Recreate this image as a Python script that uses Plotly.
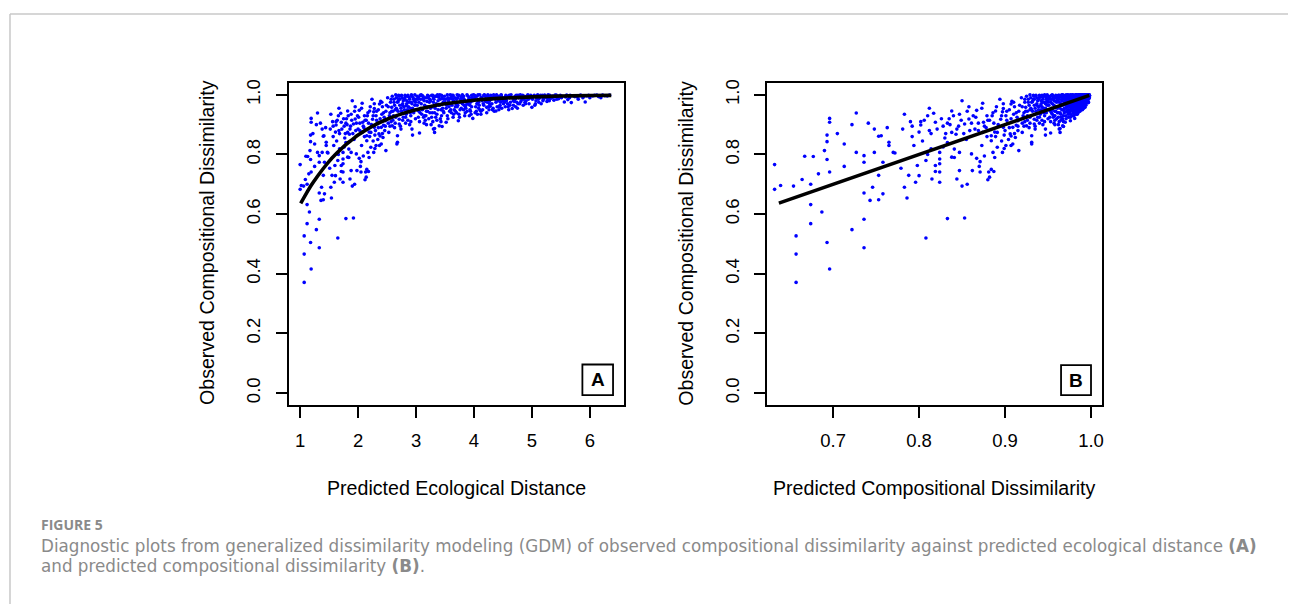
import plotly.graph_objects as go

# ---------------- data ----------------
# Panel A x: predicted ecological distance
pred_eco = [
    1.00, 1.00, 1.06, 1.09, 1.12, 1.13, 1.18, 1.19, 1.19, 1.18,
    1.18, 1.19, 1.30, 1.25, 1.30, 1.33, 1.38, 1.40, 1.45, 1.47,
    1.37, 1.33, 1.36, 1.40, 1.42, 1.40, 1.12, 1.16, 1.07, 1.18,
    1.12, 1.28, 1.33, 1.33, 1.07, 1.19, 1.07, 1.02, 1.10, 1.17,
    1.41, 1.38, 1.42, 1.48, 1.33, 1.45, 1.22, 1.28, 1.35, 1.44,
    1.25, 1.15, 1.54, 1.55, 1.59, 1.51, 1.60, 1.71, 1.74, 1.69,
    1.74, 1.71, 1.62, 1.66, 1.79, 1.82, 1.79, 1.84, 1.90, 1.79,
    1.92, 1.65, 1.98, 1.90, 1.56, 1.62, 1.70, 1.76, 1.67, 1.58,
    1.68, 1.74, 1.65, 1.74, 1.82, 1.88, 1.97, 1.82, 1.88, 1.95,
    1.92, 2.00, 1.61, 1.71, 1.74, 1.88, 1.86, 1.94, 1.53, 1.57,
    1.63, 1.68, 1.77, 1.85, 1.93, 1.96, 1.80, 1.87, 1.99, 1.95,
    1.52, 1.66, 2.02, 2.05, 2.13, 2.18, 2.14, 2.07, 2.28, 2.27,
    2.02, 2.48, 2.37, 2.04, 2.09, 2.08, 2.07, 2.15, 2.15, 2.22,
    2.28, 2.31, 2.28, 2.37, 2.20, 2.11, 2.41, 2.47, 2.40, 2.36,
    2.43, 2.31, 2.40, 2.22, 2.27, 2.17, 2.05, 2.15, 2.12, 2.10,
    2.18, 2.25, 2.33, 2.45, 2.35, 2.42, 2.24, 2.30, 2.38, 2.46,
    2.20, 2.12, 2.03, 2.26, 2.34, 2.44, 2.48, 2.39, 2.32, 2.16,
    2.53, 2.59, 2.67, 2.68, 2.71, 2.65, 2.80, 2.83, 2.91, 2.93,
    2.68, 2.71, 2.94, 2.55, 2.58, 2.62, 2.60, 2.64, 2.72, 2.75,
    2.78, 2.76, 2.85, 2.88, 2.90, 2.95, 2.98, 2.86, 2.57, 2.70,
    2.73, 2.79, 2.82, 2.87, 2.96, 2.99, 2.52, 2.63, 2.74, 2.84,
    2.92, 2.97, 2.61, 2.77, 2.89, 2.66,
    3.06, 3.32, 3.32, 3.45, 3.32, 3.30, 3.40, 3.02, 3.05, 3.08,
    3.10, 3.12, 3.15, 3.18, 3.20, 3.22, 3.25, 3.28, 3.30, 3.35,
    3.38, 3.42, 3.44, 3.47, 3.49, 3.04, 3.14, 3.24, 3.36, 3.46,
    3.09, 3.19, 3.27, 3.33, 3.41, 3.48, 3.01, 3.13, 3.23, 3.37,
    3.16, 3.43, 3.26, 3.07,
    3.52, 3.73, 3.92, 3.98, 3.55, 3.58, 3.60, 3.62, 3.65, 3.68,
    3.70, 3.72, 3.76, 3.78, 3.80, 3.83, 3.86, 3.88, 3.90, 3.94,
    3.96, 3.54, 3.64, 3.74, 3.84, 3.57, 3.67, 3.77, 3.87, 3.97,
    3.61, 3.82, 3.93, 3.69, 3.59, 3.79, 3.99,
    4.06, 4.12, 4.02, 4.05, 4.08, 4.10, 4.14, 4.17, 4.20, 4.23,
    4.26, 4.28, 4.31, 4.34, 4.37, 4.40, 4.43, 4.46, 4.49, 4.04,
    4.15, 4.25, 4.35, 4.45, 4.11, 4.21, 4.32, 4.42, 4.18, 4.29,
    4.39, 4.48, 4.09,
    4.66, 4.85, 4.52, 4.55, 4.58, 4.61, 4.64, 4.68, 4.71, 4.74,
    4.77, 4.80, 4.83, 4.87, 4.90, 4.93, 4.96, 4.54, 4.62, 4.72,
    4.79, 4.57, 4.69, 4.88, 4.98,
    5.00, 5.20, 5.46, 5.03, 5.07, 5.10, 5.14, 5.18, 5.24, 5.28,
    5.32, 5.36, 5.40, 5.44, 5.06, 5.12, 5.26, 5.38, 5.49,
    5.56, 5.68, 5.92, 6.19, 5.52, 5.60, 5.65, 5.72, 5.78, 5.84,
    5.90, 5.98, 6.05, 6.12, 6.26, 6.34, 5.80, 6.00, 5.62,
    4.38, 2.81, 3.03, 3.11, 3.21, 3.29, 3.39, 3.51, 3.63, 3.71,
    3.81, 3.91, 4.01, 4.13, 4.24, 4.36, 4.47, 4.59, 4.76, 4.92,
    5.09, 5.22, 5.34, 2.69, 2.93, 3.17, 3.53, 3.66, 3.85, 4.07,
    4.27, 4.53, 4.70,
    1.53, 1.57, 1.61, 1.64, 1.67, 1.72, 1.75, 1.78, 1.81, 1.83,
    1.86, 1.89, 1.91, 1.94, 1.97, 2.01, 2.03, 2.06, 2.09, 2.11,
    2.14, 2.17, 2.19, 2.21, 2.23, 2.26, 2.29, 2.32, 2.35, 2.38,
    2.41, 2.44, 2.47, 2.49, 2.06, 2.19, 1.76, 1.84, 2.29, 2.42,
    2.51, 2.52, 2.54, 2.56, 2.57, 2.59, 2.60, 2.62, 2.63, 2.65,
    2.66, 2.68, 2.69, 2.71, 2.72, 2.74, 2.75, 2.77, 2.78, 2.80,
    2.81, 2.83, 2.84, 2.86, 2.87, 2.89, 2.90, 2.92, 2.93, 2.95,
    2.96, 2.98, 2.99, 2.55, 2.64, 2.73, 2.82, 2.91, 2.58, 2.67,
    2.76, 2.85, 2.94, 2.70, 2.88,
    3.00, 3.02, 3.04, 3.05, 3.07, 3.09, 3.11, 3.12, 3.14, 3.15,
    3.17, 3.19, 3.20, 3.22, 3.23, 3.25, 3.27, 3.28, 3.30, 3.31,
    3.33, 3.35, 3.36, 3.38, 3.39, 3.41, 3.43, 3.45, 3.46, 3.48,
    3.06, 3.18, 3.29, 3.42, 3.13, 3.24, 3.34, 3.44, 3.08, 3.47,
    3.50, 3.52, 3.54, 3.56, 3.58, 3.60, 3.62, 3.64, 3.66, 3.68,
    3.70, 3.72, 3.74, 3.76, 3.78, 3.80, 3.82, 3.84, 3.86, 3.88,
    3.90, 3.92, 3.94, 3.96, 3.98, 3.55, 3.65, 3.75, 3.85, 3.95,
    3.57, 3.71, 3.83, 3.93, 3.63,
    4.00, 4.03, 4.05, 4.08, 4.10, 4.13, 4.16, 4.19, 4.22, 4.24,
    4.27, 4.30, 4.33, 4.36, 4.38, 4.41, 4.44, 4.47, 4.50, 4.02,
    4.12, 4.22, 4.32, 4.43, 4.07, 4.17, 4.28, 4.34, 4.46, 4.20,
    4.51, 4.53, 4.56, 4.59, 4.61, 4.63, 4.66, 4.68, 4.71, 4.73,
    4.76, 4.78, 4.81, 4.84, 4.86, 4.89, 4.91, 4.94, 4.97, 4.60,
    4.75, 4.95, 4.55, 4.70, 4.82,
    5.01, 5.04, 5.08, 5.11, 5.15, 5.19, 5.23, 5.27, 5.31, 5.35,
    5.39, 5.43, 5.47, 5.51, 5.16, 5.30, 5.05, 5.42,
    5.58, 5.66, 5.74, 5.82, 5.88, 5.95, 6.08, 6.15, 6.22, 6.30,
]

# Panel B x: predicted compositional dissimilarity (same site pairs)
pred_comp = [
    .632, .632, .654, .664, .674, .677, .693, .696, .696, .693,
    .693, .696, .727, .713, .727, .736, .748, .753, .765, .770,
    .746, .736, .743, .753, .758, .753, .674, .687, .657, .693,
    .674, .722, .736, .736, .657, .696, .657, .639, .667, .690,
    .756, .748, .758, .772, .736, .765, .705, .722, .741, .763,
    .713, .683, .786, .788, .796, .779, .798, .819, .824, .815,
    .824, .819, .802, .810, .833, .838, .833, .841, .850, .833,
    .853, .808, .862, .850, .790, .802, .817, .828, .812, .794,
    .814, .824, .808, .824, .838, .847, .861, .838, .847, .858,
    .853, .865, .800, .819, .824, .847, .844, .856, .783, .792,
    .804, .814, .830, .843, .855, .859, .835, .846, .863, .858,
    .781, .810, .867, .871, .881, .887, .882, .874, .898, .897,
    .867, .916, .907, .870, .876, .875, .874, .884, .884, .891,
    .898, .901, .898, .907, .889, .879, .910, .915, .909, .906,
    .912, .901, .909, .891, .897, .886, .871, .884, .880, .878,
    .887, .895, .903, .914, .905, .911, .894, .900, .907, .915,
    .889, .880, .869, .896, .904, .913, .916, .908, .902, .885,
    .920, .925, .931, .931, .934, .929, .939, .941, .946, .947,
    .931, .934, .947, .922, .924, .927, .926, .929, .934, .936,
    .938, .937, .942, .944, .945, .948, .949, .943, .923, .933,
    .935, .939, .940, .943, .948, .950, .920, .928, .935, .942,
    .946, .949, .926, .937, .944, .930,
    .953, .964, .964, .968, .964, .963, .967, .951, .953, .954,
    .955, .956, .957, .958, .959, .960, .961, .962, .963, .965,
    .966, .967, .968, .969, .970, .952, .957, .961, .965, .969,
    .955, .959, .962, .964, .967, .969, .951, .956, .960, .966,
    .958, .968, .962, .954,
    .970, .976, .980, .981, .971, .972, .973, .973, .974, .975,
    .975, .976, .977, .977, .978, .978, .979, .979, .980, .981,
    .981, .971, .974, .976, .978, .972, .975, .977, .979, .981,
    .973, .978, .980, .975, .973, .977, .982,
    .983, .984, .982, .983, .983, .983, .984, .985, .985, .985,
    .986, .986, .987, .987, .987, .988, .988, .988, .989, .982,
    .984, .986, .987, .988, .984, .985, .987, .988, .985, .986,
    .988, .989, .983,
    .991, .992, .989, .989, .990, .990, .990, .991, .991, .991,
    .992, .992, .992, .992, .993, .993, .993, .989, .990, .991,
    .992, .990, .991, .992, .993,
    .993, .994, .996, .993, .994, .994, .994, .994, .995, .995,
    .995, .995, .995, .996, .994, .994, .995, .995, .996,
    .996, .997, .997, .998, .996, .996, .996, .997, .997, .997,
    .997, .997, .998, .998, .998, .998, .997, .998, .996,
    .987, .940, .952, .955, .960, .963, .966, .970, .974, .976,
    .978, .980, .982, .984, .986, .987, .989, .990, .991, .993,
    .994, .995, .995, .932, .947, .958, .971, .974, .979, .983,
    .986, .989, .991,
    .783, .792, .800, .806, .812, .821, .826, .831, .836, .840,
    .844, .849, .852, .856, .861, .866, .869, .873, .876, .879,
    .882, .886, .888, .890, .892, .896, .899, .902, .905, .907,
    .910, .913, .915, .917, .873, .888, .828, .841, .899, .911,
    .919, .920, .921, .923, .923, .925, .926, .927, .928, .929,
    .930, .931, .932, .934, .934, .935, .936, .937, .938, .939,
    .940, .941, .942, .943, .943, .944, .945, .946, .947, .948,
    .948, .949, .950, .922, .929, .935, .940, .946, .924, .931,
    .937, .942, .947, .933, .944,
    .950, .951, .952, .953, .954, .955, .955, .956, .957, .957,
    .958, .959, .959, .960, .960, .961, .962, .962, .963, .963,
    .964, .965, .965, .966, .966, .967, .968, .968, .969, .969,
    .953, .958, .963, .967, .956, .961, .965, .968, .954, .969,
    .970, .970, .971, .972, .972, .973, .973, .974, .974, .975,
    .975, .976, .976, .977, .977, .978, .978, .978, .979, .979,
    .980, .980, .981, .981, .981, .971, .974, .976, .979, .981,
    .972, .976, .978, .980, .974,
    .982, .982, .983, .983, .983, .984, .984, .985, .985, .986,
    .986, .986, .987, .987, .987, .988, .988, .989, .989, .982,
    .984, .985, .987, .988, .983, .985, .986, .987, .988, .985,
    .989, .989, .990, .990, .990, .990, .991, .991, .991, .991,
    .991, .992, .992, .992, .992, .992, .993, .993, .993, .990,
    .991, .993, .989, .991, .992,
    .993, .994, .994, .994, .994, .994, .995, .995, .995, .995,
    .995, .996, .996, .996, .994, .995, .994, .996,
    .996, .997, .997, .997, .997, .997, .998, .998, .998, .998,
]

# y for both panels: observed compositional dissimilarity
observed = [
    .766, .683, .694, .716, .700, .793, .783, .921, .908, .865,
    .843, .741, .939, .835, .807, .774, .885, .861, .830, .807,
    .690, .671, .646, .648, .668, .730, .632, .607, .527, .505,
    .568, .548, .583, .487, .466, .416, .371, .696, .794, .813,
    .863, .807, .774, .805, .796, .841, .870, .900, .905, .890,
    .760, .735, .654, .730, .707, .754, .763, .763, .741, .718,
    .785, .908, .910, .930, .905, .874, .840, .818, .694, .585,
    .587, .520, .746, .980, .910, .899, .938, .895, .880, .830,
    .819, .807, .780, .769, .791, .807, .802, .946, .935, .919,
    .902, .885, .729, .743, .707, .746, .718, .700, .690, .860,
    .845, .870, .855, .868, .850, .880, .920, .895, .930, .960,
    .885, .800, .787, .776, .741, .743, .724, .972, .970, .943,
    .948, .813, .830, .760, .795, .908, .874, .863, .846, .874,
    .891, .930, .954, .969, .946, .930, .935, .913, .891, .869,
    .857, .830, .835, .824, .807, .807, .741, .750, .715, .890,
    .905, .918, .905, .925, .950, .960, .985, .880, .862, .880,
    .860, .915, .905, .845, .850, .898, .945, .978, .915, .930,
    .874, .896, .835, .863, .902, 1.000, .985, .963, .930, .885,
    .841, .918, .865, .940, .958, .975, .915, .950, .965, .945,
    .925, .990, .995, .975, .955, .990, .965, .915, .985, .998,
    .935, .960, .905, .945, .940, .920, .905, .890, .885, .980,
    1.000, .980, .930, .970, .900, .955,
    .872, .887, .874, .894, .940, .885, .896, .995, .975, .955,
    .935, .985, .965, .945, .998, .920, .980, .960, .990, .970,
    .950, .985, .930, .975, .995, .925, .905, .940, .915, .955,
    1.000, .978, .925, .995, .965, .940, .950, .990, .960, 1.000,
    .915, .910, .900, .940,
    .908, .913, .930, .921, .990, .970, .950, .998, .980, .960,
    .940, .990, .975, .955, 1.000, .985, .965, .945, .995, .975,
    .960, .930, .925, .935, .930, .960, .990, .985, .975, .990,
    .940, .950, .950, .970, 1.000, .995, 1.000,
    .935, .935, .990, .970, .955, 1.000, .980, .965, .995, .975,
    .950, .990, .970, 1.000, .985, .960, .995, .975, .990, .945,
    .950, .960, .945, .965, .985, .985, .990, .980, 1.000, .998,
    1.000, .955, .965,
    .954, .965, .985, .998, .970, .990, 1.000, .980, .995, .975,
    .990, 1.000, .985, .995, .980, 1.000, .990, .960, .965, .960,
    .970, .995, .990, .975, .998,
    .958, .985, .987, .995, .980, 1.000, .990, .998, .992, 1.000,
    .988, .996, .999, .994, .970, .975, .978, .982, .998,
    .976, .974, .976, .990, .995, .999, .990, .997, .993, .999,
    .995, .998, .996, .999, .997, .999, .985, .990, .984,
    .946, .998, .985, .997, .990, .998, .992, .985, .995, 1.000,
    .990, .985, .998, .992, 1.000, .993, 1.000, .992, .998, .993,
    .996, .999, .993, .978, .970, .930, .965, .950, .960, .975,
    .980, .975, .985,
    .935, .895, .875, .915, .955, .885, .920, .870, .900, .930,
    .885, .915, .870, .945, .905, .925, .880, .955, .895, .860,
    .915, .940, .875, .960, .900, .930, .865, .945, .890, .920,
    .975, .940, .895, .965, .830, .790, .825, .790, .820, .870,
    .990, .960, .930, .975, .910, .995, .945, .985, .965, .925,
    .990, .975, .945, .995, .985, .955, .998, .915, .980, .950,
    .990, .935, .970, .998, .960, .985, .940, .975, .995, .950,
    .985, 1.000, .975, .895, .905, .895, .925, .910, .945, .950,
    .965, .950, .955, .985, .992,
    .985, .965, .990, .945, .998, .970, .950, .995, .980, .930,
    .990, .960, .945, .995, .975, .955, .998, .940, .975, .985,
    .955, .995, .935, .980, .965, 1.000, .950, .990, .970, .985,
    .910, .900, .910, .920, .925, .985, .925, .998, .985, .945,
    .975, .955, 1.000, .980, .945, .990, .965, .998, .975, .945,
    .985, .965, .998, .950, .990, .970, .995, .980, .955, 1.000,
    .970, .990, .945, .998, .980, .920, .935, .925, .940, .935,
    .985, .960, .965, .965, .985,
    .985, .960, .995, .975, .950, .990, .970, .985, .958, .995,
    .970, .985, .955, .995, .975, .990, .960, .998, .980, .940,
    .945, .940, .950, .950, 1.000, .998, .962, .992, .985, .978,
    .970, .990, .980, .960, .998, .975, .990, .965, .985, .998,
    .970, .990, .978, .998, .985, .970, .995, .985, .992, .950,
    .955, .970, .985, .978, .992,
    .985, .998, .990, .985, .998, .980, .995, .988, .998, .990,
    .993, .985, .996, .990, .970, .980, .965, .999,
    .993, .998, .994, .997, .990, .996, .998, .994, .999, .996,
]

# fitted GDM curve (panel A) and 1:1 line (panel B)
fit_eco_x = [1.01, 1.1, 1.2, 1.3, 1.4, 1.5, 1.6, 1.7, 1.8, 1.9, 2.0, 2.25, 2.5,
             2.75, 3.0, 3.25, 3.5, 4.0, 4.5, 5.0, 5.5, 6.0, 6.37]
fit_eco_y = [0.636, 0.667, 0.699, 0.727, 0.753, 0.777, 0.798, 0.817, 0.835, 0.850,
             0.865, 0.895, 0.918, 0.936, 0.950, 0.961, 0.970, 0.982, 0.989, 0.993,
             0.996, 0.9975, 0.998]
fit_comp_x = [0.637, 0.998]
fit_comp_y = [0.637, 0.998]

x_ticks_a = [1, 2, 3, 4, 5, 6]
x_ticks_b = [0.7, 0.8, 0.9, 1.0]
x_ticktext_b = ["0.7", "0.8", "0.9", "1.0"]
y_ticks = [0.0, 0.2, 0.4, 0.6, 0.8, 1.0]
y_ticktext = ["0.0", "0.2", "0.4", "0.6", "0.8", "1.0"]

n = min(len(pred_eco), len(pred_comp), len(observed))
pred_eco, pred_comp, observed = pred_eco[:n], pred_comp[:n], observed[:n]

# ---------------- figure ----------------
W, H = 1290, 604


def px(x):
    return x / W


def py(y):
    return 1 - y / H


FONT = "Liberation Sans, Arial, sans-serif"
CAP_FONT = "DejaVu Sans, Open Sans, sans-serif"
BLUE = "#0000ff"

fig = go.Figure()
fig.add_trace(go.Scatter(x=pred_eco, y=observed, mode="markers", xaxis="x", yaxis="y",
                         marker=dict(color=BLUE, size=3.6, line=dict(width=0)),
                         hoverinfo="skip"))
fig.add_trace(go.Scatter(x=fit_eco_x, y=fit_eco_y, mode="lines", xaxis="x", yaxis="y",
                         line=dict(color="black", width=3.6, shape="spline"),
                         hoverinfo="skip"))
fig.add_trace(go.Scatter(x=pred_comp, y=observed, mode="markers", xaxis="x2", yaxis="y2",
                         marker=dict(color=BLUE, size=3.6, line=dict(width=0)),
                         hoverinfo="skip"))
fig.add_trace(go.Scatter(x=fit_comp_x, y=fit_comp_y, mode="lines", xaxis="x2", yaxis="y2",
                         line=dict(color="black", width=3.6),
                         hoverinfo="skip"))

axis_common = dict(showgrid=False, zeroline=False, showline=True, linecolor="black",
                   linewidth=1.8, mirror=True, ticks="outside", ticklen=11,
                   tickwidth=1.8, tickcolor="black",
                   tickfont=dict(family=FONT, size=18.5, color="black"))

ydom = [py(404), py(80)]
fig.update_layout(
    width=W, height=H, margin=dict(l=0, r=0, t=0, b=0),
    paper_bgcolor="white", plot_bgcolor="white", showlegend=False,
    xaxis=dict(domain=[px(289), px(625)], range=[0.80, 6.59], tickvals=x_ticks_a,
               anchor="y", ticklabelstandoff=7, **axis_common),
    yaxis=dict(domain=ydom, range=[-0.04, 1.041], tickvals=y_ticks, ticktext=y_ticktext,
               tickangle=-90, anchor="x", ticklabelstandoff=8, **axis_common),
    xaxis2=dict(domain=[px(768.3), px(1104)], range=[0.6233, 1.0131], tickvals=x_ticks_b,
                ticktext=x_ticktext_b, anchor="y2", ticklabelstandoff=7, **axis_common),
    yaxis2=dict(domain=ydom, range=[-0.04, 1.041], tickvals=y_ticks, ticktext=y_ticktext,
                tickangle=-90, anchor="x2", ticklabelstandoff=8, **axis_common),
)

title_font = dict(family=FONT, size=19.6, color="black")
ann = [
    dict(x=px(457), y=py(487), text="Predicted Ecological Distance"),
    dict(x=px(936), y=py(487), text="Predicted Compositional Dissimilarity"),
    dict(x=px(207.5), y=py(241), text="Observed Compositional Dissimilarity", textangle=-90),
    dict(x=px(687), y=py(241), text="Observed Compositional Dissimilarity", textangle=-90),
    dict(x=px(598.5), y=py(378.5), text="<b>A</b>", font=dict(family=FONT, size=19, color="black")),
    dict(x=px(1078), y=py(379), text="<b>B</b>", font=dict(family=FONT, size=19, color="black")),
]
for a in ann:
    fig.add_annotation(xref="paper", yref="paper", showarrow=False,
                       xanchor="center", yanchor="middle",
                       font=a.pop("font", title_font), **a)

cap_color = "#8a8a8a"
fig.add_annotation(xref="paper", yref="paper", showarrow=False, xanchor="left", yanchor="middle",
                   x=px(39.5), y=py(524.5), text="<b>FIGURE 5</b>",
                   font=dict(family="Open Sans, sans-serif", size=14, color=cap_color))
fig.add_annotation(xref="paper", yref="paper", showarrow=False, xanchor="left", yanchor="middle",
                   x=px(39), y=py(545.5),
                   text="Diagnostic plots from generalized dissimilarity modeling (GDM) of observed "
                        "compositional dissimilarity against predicted ecological distance <b>(A)</b>",
                   font=dict(family=CAP_FONT, size=16.75, color=cap_color))
fig.add_annotation(xref="paper", yref="paper", showarrow=False, xanchor="left", yanchor="middle",
                   x=px(39), y=py(566),
                   text="and predicted compositional dissimilarity <b>(B)</b>.",
                   font=dict(family=CAP_FONT, size=16.75, color=cap_color))

shapes = [
    dict(type="line", x0=px(10), x1=px(1290), y0=py(11), y1=py(11),
         line=dict(color="#c8c8c8", width=1.5)),
    dict(type="line", x0=px(10), x1=px(10), y0=py(11), y1=py(604),
         line=dict(color="#c8c8c8", width=1.5)),
    dict(type="rect", x0=px(583.3), x1=px(614), y0=py(394), y1=py(363.3),
         line=dict(color="black", width=1.8)),
    dict(type="rect", x0=px(1062.7), x1=px(1092.7), y0=py(394), y1=py(364),
         line=dict(color="black", width=1.8)),
]
for s in shapes:
    fig.add_shape(xref="paper", yref="paper", **s)

fig.write_html("out.html", config={"displayModeBar": False},
               post_script="document.body.style.margin='0';")
